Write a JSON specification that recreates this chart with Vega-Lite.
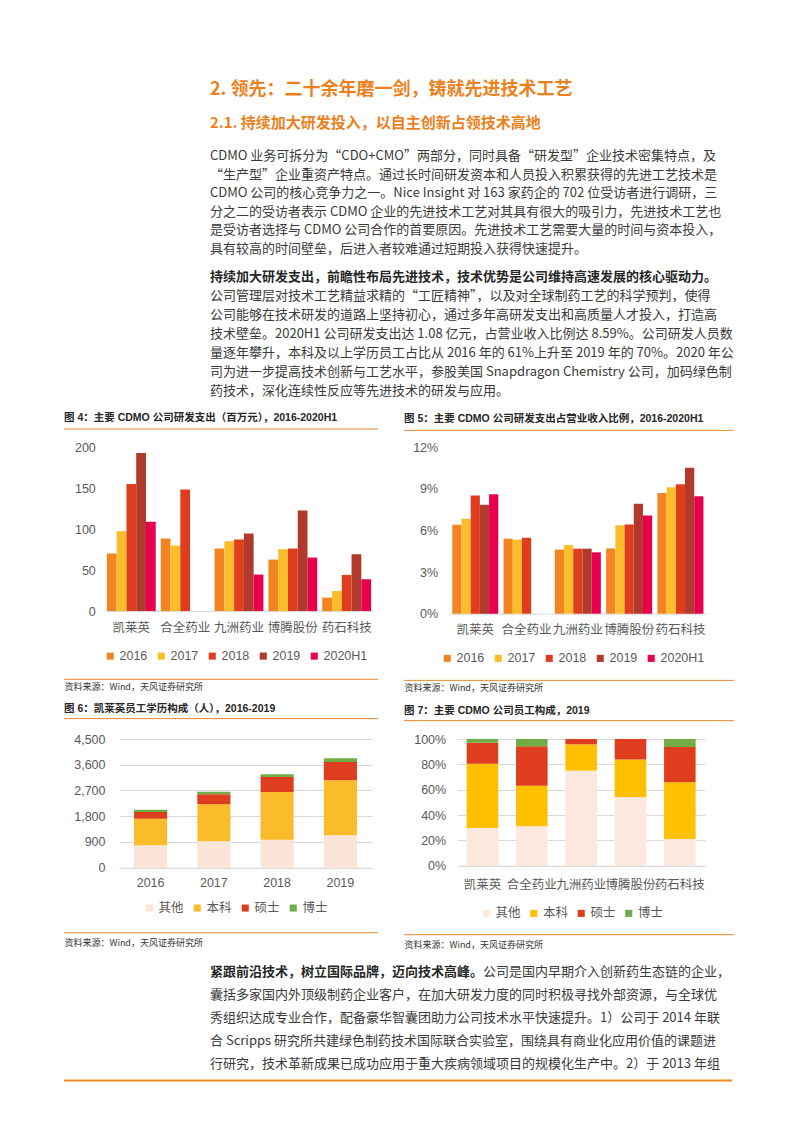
{
  "$schema": "https://vega.github.io/schema/vega-lite/v6.json",
  "background": "white",
  "padding": {"left": 62, "top": 80, "right": 10, "bottom": 10},
  "spacing": 13,
  "resolve": {"scale": {"color": "independent", "x": "independent", "y": "independent"}, "axis": {"x": "independent", "y": "independent"}, "legend": {"color": "independent"}},
  "config": {
    "view": {"stroke": "transparent"},
    "font": "Liberation Sans, Noto Sans CJK SC, sans-serif",
    "axis": {"domain": false, "ticks": false, "tickSize": 0, "grid": false, "labelColor": "#595959", "labelFontSize": 12.5, "labelFont": "Liberation Sans, Noto Sans CJK SC", "titleFont": "Noto Sans CJK SC", "titleFontSize": 9, "titleFontWeight": "normal", "titleColor": "#333333"},
    "legend": {"orient": "none", "direction": "horizontal", "symbolType": "square", "symbolSize": 50, "symbolStrokeWidth": 0, "labelFontSize": 12.5, "labelColor": "#595959", "labelFont": "Liberation Sans, Noto Sans CJK SC", "labelOffset": 3, "padding": 0},
    "title": {"anchor": "start", "frame": "group", "font": "Liberation Sans, Noto Sans CJK SC", "fontSize": 10.5, "fontWeight": "bold", "color": "#262626", "offset": 5}
  },
  "datasets": {
    "para1": [
      {"line": 0, "text": "CDMO 业务可拆分为“CDO+CMO”两部分，同时具备“研发型”企业技术密集特点，及"},
      {"line": 1, "text": "“生产型”企业重资产特点。通过长时间研发资本和人员投入积累获得的先进工艺技术是"},
      {"line": 2, "text": "CDMO 公司的核心竞争力之一。Nice Insight 对 163 家药企的 702 位受访者进行调研，三"},
      {"line": 3, "text": "分之二的受访者表示 CDMO 企业的先进技术工艺对其具有很大的吸引力，先进技术工艺也"},
      {"line": 4, "text": "是受访者选择与 CDMO 公司合作的首要原因。先进技术工艺需要大量的时间与资本投入，"},
      {"line": 5, "text": "具有较高的时间壁垒，后进入者较难通过短期投入获得快速提升。"}
    ],
    "para2lead": [
      {"line": 0, "text": "持续加大研发支出，前瞻性布局先进技术，技术优势是公司维持高速发展的核心驱动力。"}
    ],
    "para2": [
      {"line": 1, "text": "公司管理层对技术工艺精益求精的“工匠精神”，以及对全球制药工艺的科学预判，使得"},
      {"line": 2, "text": "公司能够在技术研发的道路上坚持初心，通过多年高研发支出和高质量人才投入，打造高"},
      {"line": 3, "text": "技术壁垒。2020H1 公司研发支出达 1.08 亿元，占营业收入比例达 8.59%。公司研发人员数"},
      {"line": 4, "text": "量逐年攀升，本科及以上学历员工占比从 2016 年的 61%上升至 2019 年的 70%。2020 年公"},
      {"line": 5, "text": "司为进一步提高技术创新与工艺水平，参股美国 Snapdragon Chemistry 公司，加码绿色制"},
      {"line": 6, "text": "药技术，深化连续性反应等先进技术的研发与应用。"}
    ],
    "footlead": [
      {"line": 0, "col": 0, "text": "紧跟前沿技术，树立国际品牌，迈向技术高峰。"}
    ],
    "foot": [
      {"line": 0, "col": 21, "text": "公司是国内早期介入创新药生态链的企业，"},
      {"line": 1, "col": 0, "text": "囊括多家国内外顶级制药企业客户，在加大研发力度的同时积极寻找外部资源，与全球优"},
      {"line": 2, "col": 0, "text": "秀组织达成专业合作，配备豪华智囊团助力公司技术水平快速提升。1）公司于 2014 年联"},
      {"line": 3, "col": 0, "text": "合 Scripps 研究所共建绿色制药技术国际联合实验室，围绕具有商业化应用价值的课题进"},
      {"line": 4, "col": 0, "text": "行研究，技术革新成果已成功应用于重大疾病领域项目的规模化生产中。2）于 2013 年组"}
    ],
    "rd": [
      {"company": "凯莱英", "year": "2016", "value": 70.2},
      {"company": "凯莱英", "year": "2017", "value": 97.4},
      {"company": "凯莱英", "year": "2018", "value": 155},
      {"company": "凯莱英", "year": "2019", "value": 192.7},
      {"company": "凯莱英", "year": "2020H1", "value": 108.8},
      {"company": "合全药业", "year": "2016", "value": 88.4},
      {"company": "合全药业", "year": "2017", "value": 79.8},
      {"company": "合全药业", "year": "2018", "value": 148.3},
      {"company": "九洲药业", "year": "2016", "value": 76.2},
      {"company": "九洲药业", "year": "2017", "value": 85.1},
      {"company": "九洲药业", "year": "2018", "value": 87.2},
      {"company": "九洲药业", "year": "2019", "value": 94.5},
      {"company": "九洲药业", "year": "2020H1", "value": 44.4},
      {"company": "博腾股份", "year": "2016", "value": 62.7},
      {"company": "博腾股份", "year": "2017", "value": 75.4},
      {"company": "博腾股份", "year": "2018", "value": 76.2},
      {"company": "博腾股份", "year": "2019", "value": 122.6},
      {"company": "博腾股份", "year": "2020H1", "value": 65.2},
      {"company": "药石科技", "year": "2016", "value": 16.3},
      {"company": "药石科技", "year": "2017", "value": 24.4},
      {"company": "药石科技", "year": "2018", "value": 44},
      {"company": "药石科技", "year": "2019", "value": 69.2},
      {"company": "药石科技", "year": "2020H1", "value": 38.7}
    ],
    "ratio": [
      {"company": "凯莱英", "year": "2016", "value": 0.0641},
      {"company": "凯莱英", "year": "2017", "value": 0.0684},
      {"company": "凯莱英", "year": "2018", "value": 0.085},
      {"company": "凯莱英", "year": "2019", "value": 0.0785},
      {"company": "凯莱英", "year": "2020H1", "value": 0.0859},
      {"company": "合全药业", "year": "2016", "value": 0.054},
      {"company": "合全药业", "year": "2017", "value": 0.0533},
      {"company": "合全药业", "year": "2018", "value": 0.0547},
      {"company": "九洲药业", "year": "2016", "value": 0.0461},
      {"company": "九洲药业", "year": "2017", "value": 0.0494},
      {"company": "九洲药业", "year": "2018", "value": 0.0468},
      {"company": "九洲药业", "year": "2019", "value": 0.0468},
      {"company": "九洲药业", "year": "2020H1", "value": 0.0442},
      {"company": "博腾股份", "year": "2016", "value": 0.047},
      {"company": "博腾股份", "year": "2017", "value": 0.0636},
      {"company": "博腾股份", "year": "2018", "value": 0.0643},
      {"company": "博腾股份", "year": "2019", "value": 0.0792},
      {"company": "博腾股份", "year": "2020H1", "value": 0.0706},
      {"company": "药石科技", "year": "2016", "value": 0.0869},
      {"company": "药石科技", "year": "2017", "value": 0.091},
      {"company": "药石科技", "year": "2018", "value": 0.0931},
      {"company": "药石科技", "year": "2019", "value": 0.1051},
      {"company": "药石科技", "year": "2020H1", "value": 0.0845}
    ],
    "edu": [
      {"year": "2016", "level": "其他", "lvl": 0, "count": 781},
      {"year": "2016", "level": "本科", "lvl": 1, "count": 933},
      {"year": "2016", "level": "硕士", "lvl": 2, "count": 233},
      {"year": "2016", "level": "博士", "lvl": 3, "count": 82},
      {"year": "2017", "level": "其他", "lvl": 0, "count": 921},
      {"year": "2017", "level": "本科", "lvl": 1, "count": 1294},
      {"year": "2017", "level": "硕士", "lvl": 2, "count": 350},
      {"year": "2017", "level": "博士", "lvl": 3, "count": 93},
      {"year": "2018", "level": "其他", "lvl": 0, "count": 979},
      {"year": "2018", "level": "本科", "lvl": 1, "count": 1668},
      {"year": "2018", "level": "硕士", "lvl": 2, "count": 524},
      {"year": "2018", "level": "博士", "lvl": 3, "count": 94},
      {"year": "2019", "level": "其他", "lvl": 0, "count": 1131},
      {"year": "2019", "level": "本科", "lvl": 1, "count": 1924},
      {"year": "2019", "level": "硕士", "lvl": 2, "count": 641},
      {"year": "2019", "level": "博士", "lvl": 3, "count": 128}
    ],
    "staff": [
      {"company": "凯莱英", "level": "其他", "lvl": 0, "share": 0.297},
      {"company": "凯莱英", "level": "本科", "lvl": 1, "share": 0.508},
      {"company": "凯莱英", "level": "硕士", "lvl": 2, "share": 0.166},
      {"company": "凯莱英", "level": "博士", "lvl": 3, "share": 0.029},
      {"company": "合全药业", "level": "其他", "lvl": 0, "share": 0.311},
      {"company": "合全药业", "level": "本科", "lvl": 1, "share": 0.321},
      {"company": "合全药业", "level": "硕士", "lvl": 2, "share": 0.31},
      {"company": "合全药业", "level": "博士", "lvl": 3, "share": 0.058},
      {"company": "九洲药业", "level": "其他", "lvl": 0, "share": 0.75},
      {"company": "九洲药业", "level": "本科", "lvl": 1, "share": 0.208},
      {"company": "九洲药业", "level": "硕士", "lvl": 2, "share": 0.042},
      {"company": "博腾股份", "level": "其他", "lvl": 0, "share": 0.542},
      {"company": "博腾股份", "level": "本科", "lvl": 1, "share": 0.297},
      {"company": "博腾股份", "level": "硕士", "lvl": 2, "share": 0.161},
      {"company": "药石科技", "level": "其他", "lvl": 0, "share": 0.211},
      {"company": "药石科技", "level": "本科", "lvl": 1, "share": 0.447},
      {"company": "药石科技", "level": "硕士", "lvl": 2, "share": 0.279},
      {"company": "药石科技", "level": "博士", "lvl": 3, "share": 0.063}
    ]
  },
  "vconcat": [
    {
      "width": 668,
      "height": 93,
      "title": {"text": "2. 领先：二十余年磨一剑，铸就先进技术工艺", "subtitle": "2.1. 持续加大研发投入，以自主创新占领技术高地", "anchor": "start", "frame": "group", "dx": 146, "offset": 19, "font": "Noto Sans CJK SC", "fontSize": 18, "fontWeight": "bold", "color": "#EE7F1D", "subtitleFont": "Noto Sans CJK SC", "subtitleFontSize": 15, "subtitleFontWeight": "bold", "subtitleColor": "#EE7F1D", "subtitlePadding": 17},
      "data": {"name": "para1"},
      "mark": {"type": "text", "align": "left", "baseline": "middle", "font": "Noto Sans CJK SC", "fontSize": 13, "color": "#3A3A3A"},
      "encoding": {
        "x": {"datum": 0, "type": "quantitative", "scale": {"domain": [-11.23, 40.15], "nice": false, "zero": false}, "axis": null},
        "y": {"field": "line", "type": "quantitative", "scale": {"domain": [0, 5], "reverse": true, "nice": false, "zero": false}, "axis": null},
        "text": {"field": "text"}
      }
    },
    {
      "width": 668,
      "height": 114,
      "layer": [
        {
          "data": {"name": "para2lead"},
          "mark": {"type": "text", "align": "left", "baseline": "middle", "font": "Noto Sans CJK SC", "fontSize": 13, "fontWeight": "bold", "color": "#262626"},
          "encoding": {
            "x": {"datum": 0, "type": "quantitative", "scale": {"domain": [-11.23, 40.15], "nice": false, "zero": false}, "axis": null},
            "y": {"field": "line", "type": "quantitative", "scale": {"domain": [0, 6], "reverse": true, "nice": false, "zero": false}, "axis": null},
            "text": {"field": "text"}
          }
        },
        {
          "data": {"name": "para2"},
          "mark": {"type": "text", "align": "left", "baseline": "middle", "font": "Noto Sans CJK SC", "fontSize": 13, "color": "#3A3A3A"},
          "encoding": {
            "x": {"datum": 0, "type": "quantitative", "scale": {"domain": [-11.23, 40.15], "nice": false, "zero": false}, "axis": null},
            "y": {"field": "line", "type": "quantitative", "scale": {"domain": [0, 6], "reverse": true, "nice": false, "zero": false}, "axis": null},
            "text": {"field": "text"}
          }
        }
      ]
    },
    {
      "spacing": 10,
      "resolve": {"scale": {"color": "independent", "x": "independent", "y": "independent"}, "axis": {"x": "independent", "y": "independent"}, "legend": {"color": "independent"}},
      "vconcat": [
        {
          "spacing": 24,
          "resolve": {"scale": {"color": "independent", "x": "independent", "y": "independent", "xOffset": "independent"}, "axis": {"x": "independent", "y": "independent"}, "legend": {"color": "independent"}},
          "hconcat": [
            {
              "width": 314,
              "height": 164,
              "title": {"text": "图 4：主要 CDMO 公司研发支出（百万元），2016-2020H1"},
              "data": {"name": "rd"},
              "layer": [
                {
                  "mark": {"type": "bar"},
                  "encoding": {
                    "x": {"field": "company", "type": "nominal", "sort": ["凯莱英", "合全药业", "九洲药业", "博腾股份", "药石科技"], "scale": {"range": [41.3, 308.7], "paddingInner": 0.093, "paddingOuter": 0.03},
                      "axis": {"title": "资料来源：Wind，天风证券研究所", "domain": true, "domainColor": "#D9D9D9", "domainWidth": 1, "labelAngle": 0, "labelPadding": 16, "labelBaseline": "middle", "labelOverlap": false, "titleX": 0, "titleY": 75, "titleAlign": "left", "titleBaseline": "middle", "titleAngle": 0}},
                    "xOffset": {"field": "year", "type": "nominal", "sort": ["2016", "2017", "2018", "2019", "2020H1"], "scale": {"paddingInner": 0, "paddingOuter": 0}},
                    "y": {"field": "value", "type": "quantitative", "scale": {"domain": [0, 200], "nice": false}, "axis": {"title": null, "values": [0, 50, 100, 150, 200], "offset": -41.3, "labelPadding": 10}},
                    "color": {"field": "year", "type": "nominal", "scale": {"domain": ["2016", "2017", "2018", "2019", "2020H1"], "range": ["#F28522", "#FBBD2B", "#DF3E1E", "#B03A2C", "#E8004F"]}, "legend": {"title": null, "legendX": 40, "legendY": 202.75, "columnPadding": 7}}
                  }
                },
                {
                  "data": {"values": [{}]},
                  "mark": {"type": "rule", "color": "#F0892C", "strokeWidth": 1},
                  "encoding": {"y": {"datum": 222, "type": "quantitative", "scale": {"domain": [0, 200], "nice": false}, "axis": {"title": null, "values": [0, 50, 100, 150, 200], "offset": -41.3, "labelPadding": 10}}}
                },
                {
                  "data": {"values": [{}]},
                  "mark": {"type": "rule", "color": "#F0892C", "strokeWidth": 1},
                  "encoding": {"y": {"datum": -83.3, "type": "quantitative", "scale": {"domain": [0, 200], "nice": false}, "axis": {"title": null, "values": [0, 50, 100, 150, 200], "offset": -41.3, "labelPadding": 10}}}
                }
              ]
            },
            {
              "width": 330,
              "height": 166.7,
              "title": {"text": "图 5：主要 CDMO 公司研发支出占营业收入比例，2016-2020H1"},
              "data": {"name": "ratio"},
              "layer": [
                {
                  "mark": {"type": "bar"},
                  "encoding": {
                    "x": {"field": "company", "type": "nominal", "sort": ["凯莱英", "合全药业", "九洲药业", "博腾股份", "药石科技"], "scale": {"range": [45.7, 302], "paddingInner": 0.103, "paddingOuter": 0.05},
                      "axis": {"title": "资料来源：Wind，天风证券研究所", "domain": true, "domainColor": "#D9D9D9", "domainWidth": 1, "labelAngle": 0, "labelPadding": 16, "labelBaseline": "middle", "labelOverlap": false, "titleX": 0, "titleY": 73.5, "titleAlign": "left", "titleBaseline": "middle", "titleAngle": 0}},
                    "xOffset": {"field": "year", "type": "nominal", "sort": ["2016", "2017", "2018", "2019", "2020H1"], "scale": {"paddingInner": 0, "paddingOuter": 0}},
                    "y": {"field": "value", "type": "quantitative", "scale": {"domain": [0, 0.12], "nice": false}, "axis": {"title": null, "values": [0, 0.03, 0.06, 0.09, 0.12], "format": ".0%", "offset": -45.7, "labelPadding": 12}},
                    "color": {"field": "year", "type": "nominal", "scale": {"domain": ["2016", "2017", "2018", "2019", "2020H1"], "range": ["#F28522", "#FBBD2B", "#DF3E1E", "#B03A2C", "#E8004F"]}, "legend": {"title": null, "legendX": 37, "legendY": 205, "columnPadding": 7}}
                  }
                },
                {
                  "data": {"values": [{}]},
                  "mark": {"type": "rule", "color": "#F0892C", "strokeWidth": 1},
                  "encoding": {"y": {"datum": 0.132, "type": "quantitative", "scale": {"domain": [0, 0.12], "nice": false}, "axis": {"title": null, "values": [0, 0.03, 0.06, 0.09, 0.12], "format": ".0%", "offset": -45.7, "labelPadding": 12}}}
                },
                {
                  "data": {"values": [{}]},
                  "mark": {"type": "rule", "color": "#F0892C", "strokeWidth": 1},
                  "encoding": {"y": {"datum": -0.048, "type": "quantitative", "scale": {"domain": [0, 0.12], "nice": false}, "axis": {"title": null, "values": [0, 0.03, 0.06, 0.09, 0.12], "format": ".0%", "offset": -45.7, "labelPadding": 12}}}
                }
              ]
            }
          ]
        },
        {
          "spacing": 24,
          "resolve": {"scale": {"color": "independent", "x": "independent", "y": "independent"}, "axis": {"x": "independent", "y": "independent"}, "legend": {"color": "independent"}},
          "hconcat": [
            {
              "width": 314,
              "height": 128.7,
              "title": {"text": "图 6：凯莱英员工学历构成（人），2016-2019", "offset": 4},
              "data": {"name": "edu"},
              "layer": [
                {
                  "mark": {"type": "bar"},
                  "encoding": {
                    "x": {"field": "year", "type": "nominal", "scale": {"range": [55, 308], "paddingInner": 0.476, "paddingOuter": 0.238},
                      "axis": {"title": "资料来源：Wind，天风证券研究所", "domain": true, "domainColor": "#D9D9D9", "domainWidth": 1, "labelAngle": 0, "labelPadding": 14.4, "labelBaseline": "middle", "labelOverlap": false, "titleX": 0, "titleY": 75, "titleAlign": "left", "titleBaseline": "middle", "titleAngle": 0}},
                    "y": {"field": "count", "type": "quantitative", "scale": {"domain": [0, 4500], "nice": false}, "axis": {"title": null, "values": [0, 900, 1800, 2700, 3600, 4500], "labelExpr": "format(datum.value, ',')", "offset": -55, "labelPadding": 14, "grid": true, "gridColor": "#D9D9D9", "gridWidth": 1}},
                    "order": {"field": "lvl", "type": "quantitative", "sort": "ascending"},
                    "color": {"field": "level", "type": "nominal", "scale": {"domain": ["其他", "本科", "硕士", "博士"], "range": ["#FBE4D8", "#FBBC2C", "#DF3E1E", "#70AD47"]}, "legend": {"title": null, "legendX": 79, "legendY": 162.7, "columnPadding": 7}}
                  }
                },
                {
                  "data": {"values": [{}]},
                  "mark": {"type": "rule", "color": "#F0892C", "strokeWidth": 1},
                  "encoding": {"y": {"datum": 5213, "type": "quantitative", "scale": {"domain": [0, 4500], "nice": false}, "axis": {"title": null, "values": [0, 900, 1800, 2700, 3600, 4500], "labelExpr": "format(datum.value, ',')", "offset": -55, "labelPadding": 14, "grid": true, "gridColor": "#D9D9D9", "gridWidth": 1}}}
                },
                {
                  "data": {"values": [{}]},
                  "mark": {"type": "rule", "color": "#F0892C", "strokeWidth": 1},
                  "encoding": {"y": {"datum": -2273, "type": "quantitative", "scale": {"domain": [0, 4500], "nice": false}, "axis": {"title": null, "values": [0, 900, 1800, 2700, 3600, 4500], "labelExpr": "format(datum.value, ',')", "offset": -55, "labelPadding": 14, "grid": true, "gridColor": "#D9D9D9", "gridWidth": 1}}}
                }
              ]
            },
            {
              "width": 330,
              "height": 126.7,
              "title": {"text": "图 7：主要 CDMO 公司员工构成，2019", "offset": 4},
              "data": {"name": "staff"},
              "layer": [
                {
                  "mark": {"type": "bar"},
                  "encoding": {
                    "x": {"field": "company", "type": "nominal", "sort": ["凯莱英", "合全药业", "九洲药业", "博腾股份", "药石科技"], "scale": {"range": [53.3, 301], "paddingInner": 0.36, "paddingOuter": 0.19},
                      "axis": {"title": "资料来源：Wind，天风证券研究所", "domain": true, "domainColor": "#D9D9D9", "domainWidth": 1, "labelAngle": 0, "labelPadding": 18.7, "labelBaseline": "middle", "labelOverlap": false, "titleX": 0, "titleY": 79, "titleAlign": "left", "titleBaseline": "middle", "titleAngle": 0}},
                    "y": {"field": "share", "type": "quantitative", "scale": {"domain": [0, 1], "nice": false}, "axis": {"title": null, "values": [0, 0.2, 0.4, 0.6, 0.8, 1], "format": ".0%", "offset": -53.3, "labelPadding": 11.6, "grid": true, "gridColor": "#D9D9D9", "gridWidth": 1}},
                    "order": {"field": "lvl", "type": "quantitative", "sort": "ascending"},
                    "color": {"field": "level", "type": "nominal", "scale": {"domain": ["其他", "本科", "硕士", "博士"], "range": ["#FCE8DC", "#FFC000", "#DF3E1E", "#70AD47"]}, "legend": {"title": null, "legendX": 76, "legendY": 168, "columnPadding": 6.5}}
                  }
                },
                {
                  "data": {"values": [{}]},
                  "mark": {"type": "rule", "color": "#F0892C", "strokeWidth": 1},
                  "encoding": {"y": {"datum": 1.145, "type": "quantitative", "scale": {"domain": [0, 1], "nice": false}, "axis": {"title": null, "values": [0, 0.2, 0.4, 0.6, 0.8, 1], "format": ".0%", "offset": -53.3, "labelPadding": 11.6, "grid": true, "gridColor": "#D9D9D9", "gridWidth": 1}}}
                },
                {
                  "data": {"values": [{}]},
                  "mark": {"type": "rule", "color": "#F0892C", "strokeWidth": 1},
                  "encoding": {"y": {"datum": -0.5446, "type": "quantitative", "scale": {"domain": [0, 1], "nice": false}, "axis": {"title": null, "values": [0, 0.2, 0.4, 0.6, 0.8, 1], "format": ".0%", "offset": -53.3, "labelPadding": 11.6, "grid": true, "gridColor": "#D9D9D9", "gridWidth": 1}}}
                }
              ]
            }
          ]
        }
      ]
    },
    {
      "width": 668,
      "height": 115.6,
      "layer": [
        {
          "data": {"name": "footlead"},
          "mark": {"type": "text", "align": "left", "baseline": "middle", "font": "Noto Sans CJK SC", "fontSize": 13, "fontWeight": "bold", "color": "#262626"},
          "encoding": {
            "x": {"field": "col", "type": "quantitative", "scale": {"domain": [-11.23, 40.15], "nice": false, "zero": false}, "axis": null},
            "y": {"field": "line", "type": "quantitative", "scale": {"domain": [-0.286, 4.74], "reverse": true, "nice": false, "zero": false}, "axis": null},
            "text": {"field": "text"}
          }
        },
        {
          "data": {"name": "foot"},
          "mark": {"type": "text", "align": "left", "baseline": "middle", "font": "Noto Sans CJK SC", "fontSize": 13, "color": "#3A3A3A"},
          "encoding": {
            "x": {"field": "col", "type": "quantitative", "scale": {"domain": [-11.23, 40.15], "nice": false, "zero": false}, "axis": null},
            "y": {"field": "line", "type": "quantitative", "scale": {"domain": [-0.286, 4.74], "reverse": true, "nice": false, "zero": false}, "axis": null},
            "text": {"field": "text"}
          }
        },
        {
          "data": {"values": [{}]},
          "mark": {"type": "rule", "color": "#F0891F", "strokeWidth": 2},
          "encoding": {"y": {"datum": 4.74, "type": "quantitative", "scale": {"domain": [-0.286, 4.74], "reverse": true, "nice": false, "zero": false}, "axis": null}}
        }
      ]
    }
  ]
}
